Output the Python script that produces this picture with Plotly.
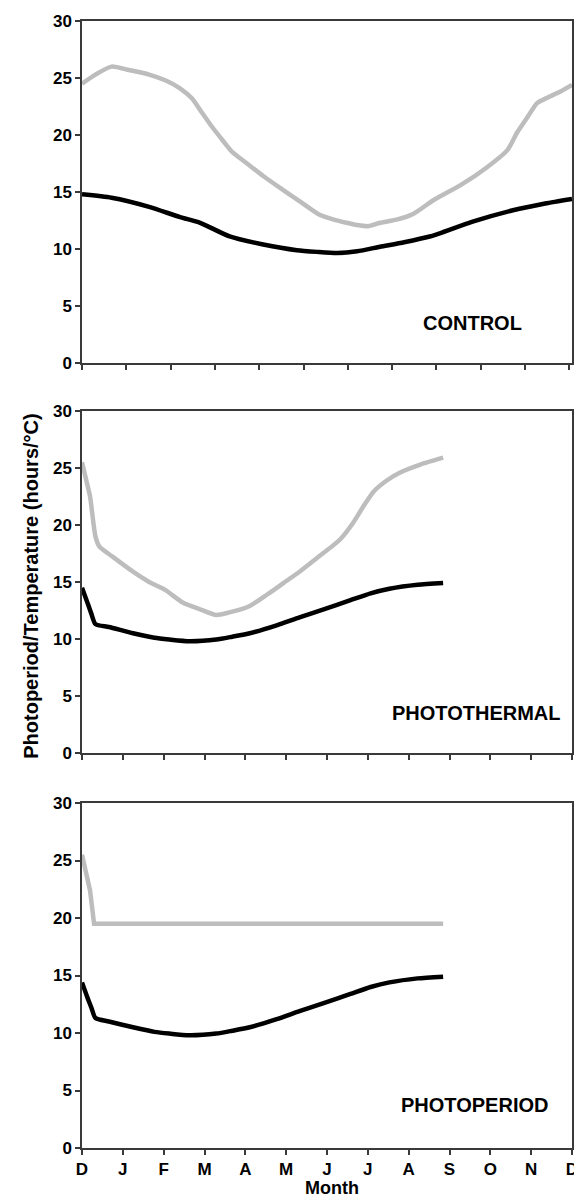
import plotly.graph_objects as go
from plotly.subplots import make_subplots

# ------------------------------------------------------------------
# Data (x = days from 1 December, y = hours or °C)
# ------------------------------------------------------------------
control_temp_days = [0, 10, 22, 35, 50, 62, 73, 82, 88, 97, 105, 112, 123, 135, 147,
                     162, 177, 187, 197, 205, 213, 222, 235, 247, 262, 282, 302,
                     317, 324, 332, 339, 347, 356, 365]
control_temp = [24.5, 25.3, 26.0, 25.7, 25.3, 24.8, 24.1, 23.2, 22.2, 20.7, 19.5,
                18.5, 17.5, 16.4, 15.4, 14.2, 13.0, 12.6, 12.3, 12.1, 12.0, 12.3,
                12.6, 13.1, 14.3, 15.6, 17.2, 18.7, 20.2, 21.6, 22.8, 23.3, 23.8, 24.4]

control_photo_days = [0, 22, 50, 73, 88, 110, 135, 160, 175, 190, 205, 222, 240, 259,
                      267, 291, 321, 345, 365]
control_photo = [14.8, 14.5, 13.7, 12.8, 12.3, 11.1, 10.4, 9.9, 9.75, 9.65, 9.8, 10.2,
                 10.6, 11.1, 11.4, 12.4, 13.4, 14.0, 14.4]

thermal_temp_days = [0, 3, 6, 10, 13, 23, 38, 50, 62, 75, 88, 100, 112, 125, 138, 150,
                     162, 175, 192, 202, 210, 217, 227, 237, 252, 269]
thermal_temp = [25.5, 24.0, 22.5, 19.0, 18.1, 17.2, 15.9, 15.0, 14.3, 13.2, 12.6,
                12.1, 12.4, 12.9, 13.9, 14.9, 15.9, 17.1, 18.7, 20.2, 21.7, 22.9,
                23.9, 24.6, 25.3, 25.9]

thermal_photo_days = [0, 4, 7, 10, 20, 38, 54, 65, 80, 100, 112, 125, 145, 162, 180,
                      200, 215, 229, 250, 269]
thermal_photo = [14.5, 13.2, 12.2, 11.3, 11.05, 10.5, 10.1, 9.95, 9.8, 9.95, 10.2,
                 10.5, 11.2, 11.9, 12.6, 13.4, 14.0, 14.4, 14.75, 14.9]

period_temp_days = [0, 3, 6, 9, 269]
period_temp = [25.5, 24.0, 22.4, 19.5, 19.5]

period_photo_days = [0, 4, 7, 10, 20, 38, 54, 65, 80, 100, 112, 125, 145, 162, 180,
                     200, 215, 229, 250, 269]
period_photo = [14.4, 13.1, 12.2, 11.3, 11.0, 10.5, 10.1, 9.95, 9.8, 9.95, 10.2,
                10.5, 11.2, 11.9, 12.6, 13.4, 14.0, 14.4, 14.75, 14.9]

month_labels = ["D", "J", "F", "M", "A", "M", "J", "J", "A", "S", "O", "N", "D"]
month_ticks = [365 / 12 * i for i in range(13)]
top_ticks = [33 * i for i in range(12)]
y_ticks = [0, 5, 10, 15, 20, 25, 30]
panel_names = ["CONTROL", "PHOTOTHERMAL", "PHOTOPERIOD"]
label_pos = [(291, 3.5), (294, 3.5), (292, 3.7)]

GREY = "#BDBDBD"
BLACK = "#000000"
AXIS = "#3a3a3a"
FONT = "Liberation Sans, Arial, sans-serif"
BOLD = dict(color="black", family=FONT, weight="bold")

fig = make_subplots(rows=3, cols=1)

panels = [
    (control_temp_days, control_temp, control_photo_days, control_photo, "spline"),
    (thermal_temp_days, thermal_temp, thermal_photo_days, thermal_photo, "spline"),
    (period_temp_days, period_temp, period_photo_days, period_photo, "linear"),
]
for i, (td, tv, pd_, pv, grey_shape) in enumerate(panels, start=1):
    fig.add_trace(go.Scatter(x=td, y=tv, mode="lines",
                             line=dict(color=GREY, width=4.5, shape=grey_shape, smoothing=0.6),
                             showlegend=False),
                  row=i, col=1)
    fig.add_trace(go.Scatter(x=pd_, y=pv, mode="lines",
                             line=dict(color=BLACK, width=4.5, shape="spline", smoothing=0.6),
                             showlegend=False),
                  row=i, col=1)
    suffix = "" if i == 1 else str(i)
    fig.add_annotation(x=label_pos[i - 1][0], y=label_pos[i - 1][1],
                       xref="x" + suffix, yref="y" + suffix,
                       text=panel_names[i - 1], showarrow=False,
                       font=dict(size=20, **BOLD))

domains = [[0.6965, 1.0], [0.3505, 0.654], [0.0, 0.3061]]
for i in range(1, 4):
    fig.update_yaxes(row=i, col=1, domain=domains[i - 1], range=[0, 30],
                     tickvals=y_ticks, ticks="outside", ticklen=5, tickwidth=1.5,
                     tickcolor=AXIS, showline=True, linecolor=AXIS, linewidth=1.5,
                     mirror=True, showgrid=False, zeroline=False, automargin=False,
                     tickfont=dict(size=17, **BOLD))
    fig.update_xaxes(row=i, col=1, range=[0, 365],
                     tickvals=top_ticks if i == 1 else month_ticks,
                     ticktext=month_labels if i == 3 else None,
                     showticklabels=(i == 3), ticks="outside", ticklen=5, tickwidth=1.5,
                     tickcolor=AXIS, showline=True, linecolor=AXIS, linewidth=1.5,
                     mirror=True, showgrid=False, zeroline=False, automargin=False,
                     tickfont=dict(size=17, **BOLD))

# x-axis title and shared y-axis title
fig.add_annotation(x=0.51, y=-0.0355, xref="paper", yref="paper", text="Month",
                   showarrow=False, yanchor="middle", font=dict(size=18, **BOLD))
fig.add_annotation(x=-0.1306, y=0.498, xref="paper", yref="paper", textangle=-90,
                   text="Photoperiod/Temperature (hours/°C)", showarrow=False,
                   font=dict(size=20, **BOLD))

# the page body has an 8 px margin, so the figure is shifted by 8 px
fig.update_layout(
    width=574, height=1194,
    margin=dict(l=74, r=10, t=13, b=54),
    paper_bgcolor="white", plot_bgcolor="white",
    font=dict(family=FONT, color="black"),
)

fig.write_html("out.html")
